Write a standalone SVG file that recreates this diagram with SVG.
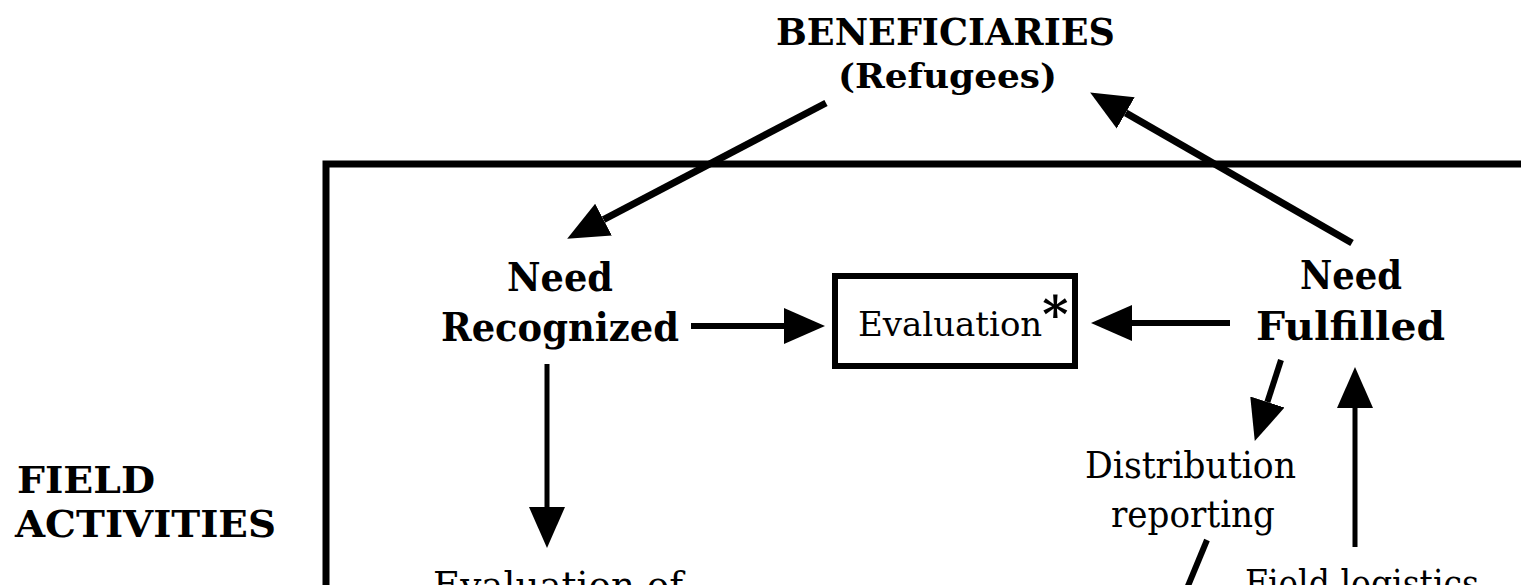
<svg xmlns="http://www.w3.org/2000/svg" width="1521" height="585" viewBox="0 0 1521 585">
<style>
.t{font-family:"DejaVu Serif","Liberation Serif",serif;fill:#000}
.b{font-weight:bold}
.ln{stroke:#000;fill:none;stroke-linecap:butt}
</style>
<defs>
<marker id="ah" markerUnits="userSpaceOnUse" markerWidth="42" markerHeight="38" refX="0" refY="18" orient="auto" viewBox="0 0 42 36">
<path d="M0,0 L41,18 L0,36 z" fill="#000"/>
</marker>
</defs>
<rect width="1521" height="585" fill="#fff"/>
<g id="frame">
<path class="ln" d="M1530,164 L326,164 L326,600" stroke-width="7"/>
</g>
<g id="beneficiaries">
<text class="t b" x="945.5" y="45" font-size="38" text-anchor="middle" textLength="339" lengthAdjust="spacingAndGlyphs">BENEFICIARIES</text>
<text class="t b" x="947.5" y="88" font-size="34" text-anchor="middle" textLength="219" lengthAdjust="spacingAndGlyphs">(Refugees)</text>
</g>
<g id="need-recognized">
<text class="t b" x="560" y="291" font-size="40" text-anchor="middle" textLength="106" lengthAdjust="spacingAndGlyphs">Need</text>
<text class="t b" x="560" y="341" font-size="40" text-anchor="middle" textLength="238" lengthAdjust="spacingAndGlyphs">Recognized</text>
</g>
<g id="evaluation">
<rect x="835" y="276" width="240" height="90" fill="none" stroke="#000" stroke-width="6"/>
<text class="t" x="858" y="336" font-size="34">Evaluation<tspan font-size="50" font-weight="bold" dy="-4">*</tspan></text>
</g>
<g id="need-fulfilled">
<text class="t b" x="1351" y="289" font-size="40" text-anchor="middle" textLength="102" lengthAdjust="spacingAndGlyphs">Need</text>
<text class="t b" x="1350.5" y="340" font-size="40" text-anchor="middle" textLength="189" lengthAdjust="spacingAndGlyphs">Fulfilled</text>
</g>
<g id="field-activities">
<text class="t b" x="17" y="493" font-size="37" textLength="138" lengthAdjust="spacingAndGlyphs">FIELD</text>
<text class="t b" x="15" y="537" font-size="37" textLength="261" lengthAdjust="spacingAndGlyphs">ACTIVITIES</text>
</g>
<g id="distribution-reporting">
<text class="t" x="1190.5" y="478" font-size="38" text-anchor="middle" textLength="211" lengthAdjust="spacingAndGlyphs">Distribution</text>
<text class="t" x="1193" y="527" font-size="38" text-anchor="middle" textLength="164" lengthAdjust="spacingAndGlyphs">reporting</text>
</g>
<g id="evaluation-of">
<text class="t" x="433" y="598" font-size="38" textLength="250" lengthAdjust="spacingAndGlyphs">Evaluation of</text>
</g>
<g id="field-logistics">
<text class="t" x="1245" y="596" font-size="38" textLength="234" lengthAdjust="spacingAndGlyphs">Field logistics</text>
</g>
<g id="connectors">
<line class="ln" x1="826" y1="103" x2="603.5" y2="219.6" stroke-width="7" marker-end="url(#ah)"/>
<line class="ln" x1="1352" y1="243" x2="1125.7" y2="112.9" stroke-width="7" marker-end="url(#ah)"/>
<line class="ln" x1="691" y1="326" x2="784" y2="326" stroke-width="6" marker-end="url(#ah)"/>
<line class="ln" x1="1230" y1="323" x2="1132" y2="323" stroke-width="6" marker-end="url(#ah)"/>
<line class="ln" x1="547" y1="364" x2="547" y2="507" stroke-width="5" marker-end="url(#ah)"/>
<line class="ln" x1="1281" y1="360" x2="1267.4" y2="402" stroke-width="6" marker-end="url(#ah)"/>
<line class="ln" x1="1355" y1="547" x2="1355" y2="408" stroke-width="5" marker-end="url(#ah)"/>
<line class="ln" x1="1207" y1="540" x2="1183" y2="598" stroke-width="6"/>
</g>
</svg>
